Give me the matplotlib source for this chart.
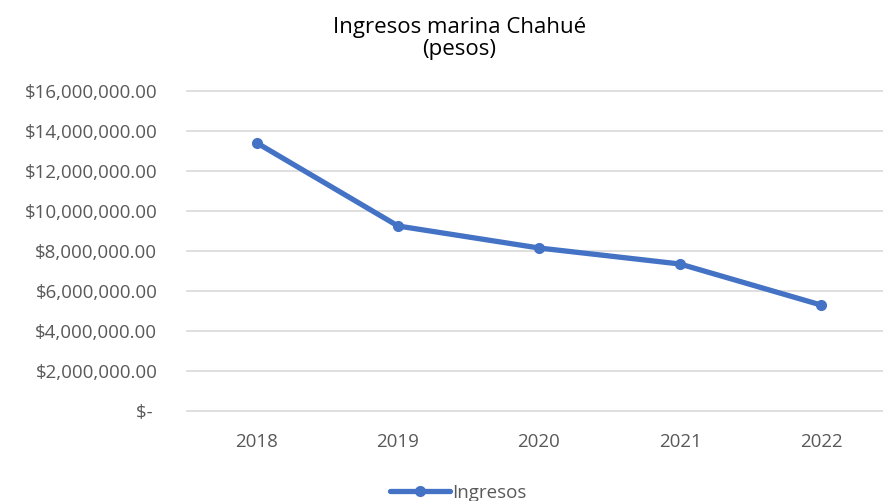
import matplotlib.pyplot as plt
import numpy as np

years = ['2018', '2019', '2020', '2021', '2022']
ingresos = [13400000, 9250000, 8150000, 7350000, 5300000]
y_ticks = [0, 2000000, 4000000, 6000000, 8000000, 10000000, 12000000, 14000000, 16000000]

def money(v):
    if v == 0:
        return '$- '
    return '${:,.2f}'.format(v)

plt.rcParams['font.family'] = ['Open Sans', 'DejaVu Sans']

fig = plt.figure(figsize=(8.83, 5.01), dpi=100)
ax = fig.add_axes([186.5/883, 90/501, 705/883, 320/501])

x = np.arange(len(years))
line, = ax.plot(x, ingresos, color='#4472C4', lw=3.8, marker='o', ms=7,
                solid_capstyle='round', label='Ingresos')

ax.set_xlim(-0.5, len(years) - 0.5)
ax.set_ylim(0, 16000000)
ax.set_yticks(y_ticks)
ax.set_yticklabels([money(v) for v in y_ticks])
ax.set_xticks(x)
ax.set_xticklabels(years)
ax.tick_params(length=0, labelsize=13.5, labelcolor='#595959')
ax.tick_params(axis='y', pad=21)
ax.tick_params(axis='x', pad=16)
ax.grid(axis='y', color='#d9d9d9', lw=1.2)
for gl in ax.get_ygridlines():
    gl.set_clip_on(False)
ax.set_axisbelow(True)
for s in ax.spines.values():
    s.set_visible(False)

fig.text(0.52, 1 - 27/501, 'Ingresos marina Chahué', ha='center', va='center',
         fontsize=16, color='black')
fig.text(0.52, 1 - 50/501, '(pesos)', ha='center', va='center',
         fontsize=16, color='black')

fig.legend(handles=[line], loc='center', bbox_to_anchor=(458/883, 8/501), frameon=False,
           fontsize=13.5, labelcolor='#595959', handlelength=3.2, handletextpad=0.1,
           borderpad=0)

fig.savefig('out.png', dpi=100)
